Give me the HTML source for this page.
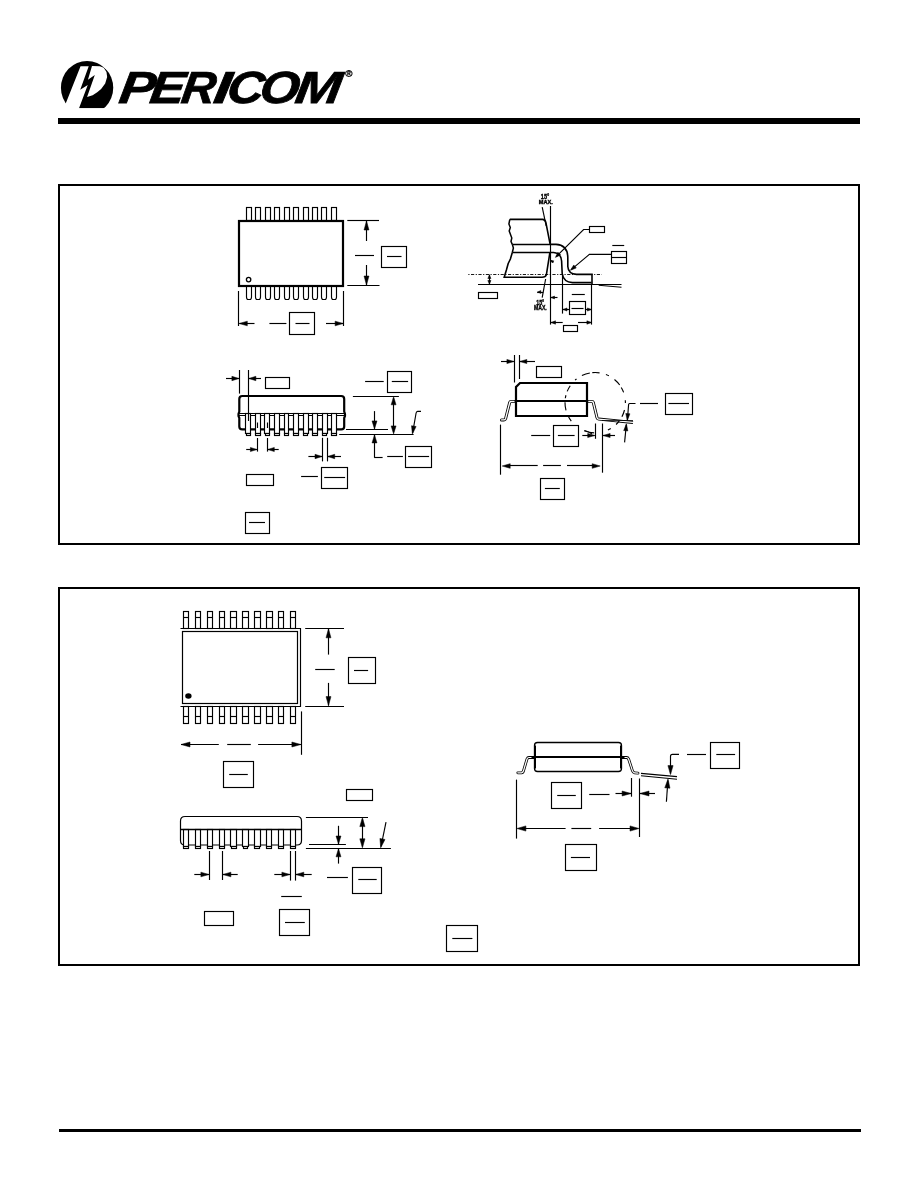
<!DOCTYPE html>
<html lang="en">
<head>
<meta charset="utf-8">
<title>Pericom - Packaging Mechanical</title>
<style>
html,body{margin:0;padding:0;background:#fff;}
body{width:918px;height:1188px;overflow:hidden;position:relative;font-family:"Liberation Sans",Arial,sans-serif;}
svg{position:absolute;left:0;top:0;display:block;will-change:transform;}
svg *{vector-effect:none;}
</style>
</head>
<body>
<svg width="918" height="1188" viewBox="0 0 918 1188" stroke="#000" fill="none" stroke-linecap="butt" stroke-linejoin="miter">
<!-- header rule -->
<rect x="58" y="118" width="802" height="6" fill="#000" stroke="none"/>
<rect x="59" y="1129" width="802" height="3" fill="#000" stroke="none"/>
<rect x="59" y="185" width="800" height="359" fill="none" stroke-width="2"/>
<rect x="59" y="588" width="800" height="377" fill="none" stroke-width="2"/>
<g id="logo" transform="translate(58,58) scale(0.065359)" stroke="none">
<ellipse cx="445" cy="455" rx="400" ry="410" fill="#000"/>
<!-- white stem + bowl of the P -->
<path d="M345,125 L470,125 L340,485 L455,412 L313,790 L80,790 Z" fill="#fff"/>
<path d="M520,122 L640,125 L700,150 L742,215 L752,290 L722,390 L660,475 L600,525 L530,570 L445,598 L563,262 L458,332 Z" fill="#fff"/>
<path d="M702,140 L745,118 L775,190 L738,176 Z" fill="#fff"/>
<rect x="0" y="766" width="900" height="120" fill="#fff"/>
</g>
<g transform="translate(0,103.15) skewX(-8.3)"><text id="brand" y="0" font-family="'Liberation Sans', Arial, sans-serif" font-weight="bold" font-style="italic" font-size="45.0" fill="#000" stroke="#000" stroke-width="0.8" stroke-linejoin="miter"><tspan x="117.7" textLength="36.02" lengthAdjust="spacingAndGlyphs">P</tspan><tspan x="148.6" textLength="34.52" lengthAdjust="spacingAndGlyphs">E</tspan><tspan x="179.9" textLength="33.80" lengthAdjust="spacingAndGlyphs">R</tspan><tspan x="212.3" textLength="17.00" lengthAdjust="spacingAndGlyphs">I</tspan><tspan x="225.4" textLength="36.89" lengthAdjust="spacingAndGlyphs">C</tspan><tspan x="258.2" textLength="39.55" lengthAdjust="spacingAndGlyphs">O</tspan><tspan x="293.85" textLength="45.73" lengthAdjust="spacingAndGlyphs">M</tspan></text></g>
<text x="345.2" y="77.4" font-family="'Liberation Sans', Arial, sans-serif" font-weight="bold" font-size="9.8" fill="#000" stroke="#000" stroke-width="0.3">®</text>
<!-- F1 top view -->
<rect x="246.5" y="207.5" width="5.0" height="13.0" stroke-width="1.15" fill="none" />
<path d="M246.5,286 V297 Q246.5,299.5 248.2,299.5 H249.8 Q251.5,299.5 251.5,297 V286" stroke-width="1.15" fill="none" />
<rect x="255.5" y="207.5" width="5.0" height="13.0" stroke-width="1.15" fill="none" />
<path d="M255.5,286 V297 Q255.5,299.5 257.2,299.5 H258.8 Q260.5,299.5 260.5,297 V286" stroke-width="1.15" fill="none" />
<rect x="265.5" y="207.5" width="5.0" height="13.0" stroke-width="1.15" fill="none" />
<path d="M265.5,286 V297 Q265.5,299.5 267.2,299.5 H268.8 Q270.5,299.5 270.5,297 V286" stroke-width="1.15" fill="none" />
<rect x="274.5" y="207.5" width="5.0" height="13.0" stroke-width="1.15" fill="none" />
<path d="M274.5,286 V297 Q274.5,299.5 276.2,299.5 H277.8 Q279.5,299.5 279.5,297 V286" stroke-width="1.15" fill="none" />
<rect x="284.5" y="207.5" width="5.0" height="13.0" stroke-width="1.15" fill="none" />
<path d="M284.5,286 V297 Q284.5,299.5 286.2,299.5 H287.8 Q289.5,299.5 289.5,297 V286" stroke-width="1.15" fill="none" />
<rect x="293.5" y="207.5" width="5.0" height="13.0" stroke-width="1.15" fill="none" />
<path d="M293.5,286 V297 Q293.5,299.5 295.2,299.5 H296.8 Q298.5,299.5 298.5,297 V286" stroke-width="1.15" fill="none" />
<rect x="303.5" y="207.5" width="5.0" height="13.0" stroke-width="1.15" fill="none" />
<path d="M303.5,286 V297 Q303.5,299.5 305.2,299.5 H306.8 Q308.5,299.5 308.5,297 V286" stroke-width="1.15" fill="none" />
<rect x="312.5" y="207.5" width="5.0" height="13.0" stroke-width="1.15" fill="none" />
<path d="M312.5,286 V297 Q312.5,299.5 314.2,299.5 H315.8 Q317.5,299.5 317.5,297 V286" stroke-width="1.15" fill="none" />
<rect x="321.5" y="207.5" width="5.0" height="13.0" stroke-width="1.15" fill="none" />
<path d="M321.5,286 V297 Q321.5,299.5 323.2,299.5 H324.8 Q326.5,299.5 326.5,297 V286" stroke-width="1.15" fill="none" />
<rect x="331.5" y="207.5" width="5.0" height="13.0" stroke-width="1.15" fill="none" />
<path d="M331.5,286 V297 Q331.5,299.5 333.2,299.5 H334.8 Q336.5,299.5 336.5,297 V286" stroke-width="1.15" fill="none" />
<rect x="239.0" y="221.0" width="104.0" height="65.0" stroke-width="2.2" fill="#fff" />
<circle cx="248.6" cy="279.6" r="2.2" fill="none" stroke-width="1.3"/>
<line x1="347.3" y1="220.5" x2="379" y2="220.5" stroke-width="1.15" />
<line x1="347.3" y1="285.5" x2="379.5" y2="285.5" stroke-width="1.15" />
<line x1="366.5" y1="241" x2="366.5" y2="221" stroke-width="1.15" />
<polygon points="366.50,221.00 368.97,230.00 364.03,230.00" fill="#000" stroke="#000" stroke-width="0.5"/>
<line x1="366.5" y1="265" x2="366.5" y2="285" stroke-width="1.15" />
<polygon points="366.50,285.00 364.03,276.00 368.97,276.00" fill="#000" stroke="#000" stroke-width="0.5"/>
<line x1="355" y1="255.5" x2="374" y2="255.5" stroke-width="1.15" />
<rect x="381.5" y="246.5" width="25.0" height="21.0" stroke-width="1.15" fill="#fff" />
<line x1="387" y1="256.5" x2="401.5" y2="256.5" stroke-width="1.15" />
<line x1="238.5" y1="291" x2="238.5" y2="326" stroke-width="1.15" />
<line x1="343.5" y1="291" x2="343.5" y2="326" stroke-width="1.15" />
<line x1="254.5" y1="323.5" x2="239.3" y2="323.5" stroke-width="1.15" />
<polygon points="239.30,323.50 247.30,321.16 247.30,325.84" fill="#000" stroke="#000" stroke-width="0.5"/>
<line x1="326" y1="323.5" x2="343.1" y2="323.5" stroke-width="1.15" />
<polygon points="343.10,323.50 335.10,325.84 335.10,321.16" fill="#000" stroke="#000" stroke-width="0.5"/>
<line x1="269.4" y1="323.5" x2="286.4" y2="323.5" stroke-width="1.15" />
<rect x="289.5" y="312.5" width="25.0" height="22.0" stroke-width="1.15" fill="#fff" />
<line x1="295.5" y1="323.5" x2="309.5" y2="323.5" stroke-width="1.15" />
<!-- F1 lead detail -->
<text x="540.8" y="199.2" font-size="7" textLength="8.4" lengthAdjust="spacingAndGlyphs" font-family="'Liberation Sans', Arial, sans-serif" font-weight="bold" fill="#000" stroke="#000" stroke-width="0.35">15°</text>
<text x="538.8" y="204" font-size="4.8" textLength="14" lengthAdjust="spacingAndGlyphs" font-family="'Liberation Sans', Arial, sans-serif" font-weight="bold" fill="#000" stroke="#000" stroke-width="0.35">MAX.</text>
<text x="536.2" y="304.6" font-size="6.6" textLength="8" lengthAdjust="spacingAndGlyphs" font-family="'Liberation Sans', Arial, sans-serif" font-weight="bold" fill="#000" stroke="#000" stroke-width="0.35">15°</text>
<text x="533.9" y="309.9" font-size="6.4" textLength="12.9" lengthAdjust="spacingAndGlyphs" font-family="'Liberation Sans', Arial, sans-serif" font-weight="bold" fill="#000" stroke="#000" stroke-width="0.35">MAX.</text>
<line x1="550.5" y1="206" x2="550.5" y2="324.6" stroke-width="1.15" />
<line x1="542.2" y1="207.2" x2="546.2" y2="226" stroke-width="1.15" />
<line x1="545.6" y1="279" x2="542.2" y2="297.7" stroke-width="1.15" />
<path d="M509.8,219.4 H542.6 Q545.2,219.6 545.9,222.6 L550.2,244.6" stroke-width="1.6" fill="none" />
<path d="M509.8,219.4 L508.9,224 L510.3,227.5 L509.2,231 L511.8,238 L511,241.5 L512.3,244.4" stroke-width="1.5" fill="none" />
<line x1="512.3" y1="244.5" x2="550.4" y2="244.5" stroke-width="1.3" />
<line x1="512.3" y1="252.5" x2="550.4" y2="252.5" stroke-width="1.3" />
<path d="M512.3,244.4 L513.4,248 L512.3,252.5" stroke-width="1.5" fill="none" />
<path d="M512.3,252.5 L510.4,259 L508.2,263.5 L506.4,270 L504.2,277.2 H541.5 Q545.6,277.4 546.4,274.6 L549.9,252.5" stroke-width="1.6" fill="none" />
<path d="M550.4,244.4 H556 Q567.6,245 567.8,257.5 V266.5 Q568.3,274 576.5,274.4 H592 V284" stroke-width="1.6" fill="none" />
<path d="M550.4,252.5 H553.6 Q561,253.2 561.6,261 L562.2,273.5 Q563.4,282 572.5,282.6 H591.6" stroke-width="1.6" fill="none" />
<line x1="468.3" y1="274.5" x2="601.8" y2="274.5" stroke-width="0.9" stroke-dasharray="1.2 1.5 3.2 1.5"/>
<line x1="478" y1="284.5" x2="621.5" y2="284.5" stroke-width="1.15" />
<line x1="598.7" y1="285.2" x2="621.5" y2="287.2" stroke-width="1.15" />
<line x1="489.5" y1="274.5" x2="489.5" y2="284.4" stroke-width="1.15" />
<polygon points="489.40,275.00 490.96,278.50 487.84,278.50" fill="#000" stroke="#000" stroke-width="0.5"/>
<polygon points="489.40,284.00 487.84,280.50 490.96,280.50" fill="#000" stroke="#000" stroke-width="0.5"/>
<rect x="478.5" y="292.5" width="19.0" height="6.0" stroke-width="1.15" fill="#fff" />
<line x1="537.2" y1="292.5" x2="543.2" y2="292.5" stroke-width="1.15" />
<polygon points="537.40,292.00 540.90,290.57 540.90,293.43" fill="#000" stroke="#000" stroke-width="0.5"/>
<line x1="557.5" y1="297.5" x2="551" y2="297.5" stroke-width="1.15" />
<polygon points="551.00,297.50 554.50,296.07 554.50,298.93" fill="#000" stroke="#000" stroke-width="0.5"/>
<line x1="553.6" y1="262.3" x2="550.9" y2="260.6" stroke-width="1.15" />
<polygon points="550.90,260.60 553.71,260.83 552.32,263.03" fill="#000" stroke="#000" stroke-width="0.5"/>
<rect x="589.5" y="226.5" width="15.0" height="6.0" stroke-width="1.15" fill="#fff" />
<path d="M589.4,229.5 H583.6 L556.4,256.4" stroke-width="1.15" fill="none" />
<polygon points="555.40,257.40 557.91,252.13 560.67,254.89" fill="#000" stroke="#000" stroke-width="0.5"/>
<path d="M611.8,254.4 H589.4 L571.5,269.4" stroke-width="1.15" fill="none" />
<polygon points="570.40,270.30 573.76,264.96 576.26,267.96" fill="#000" stroke="#000" stroke-width="0.5"/>
<rect x="611.5" y="251.5" width="15.0" height="12.0" stroke-width="1.15" fill="#fff" />
<line x1="611.8" y1="257.5" x2="626.8" y2="257.5" stroke-width="1.15" />
<line x1="612.3" y1="245.5" x2="624.2" y2="245.5" stroke-width="1.15" />
<line x1="562.5" y1="274" x2="562.5" y2="313.6" stroke-width="1.15" />
<line x1="591.5" y1="284" x2="591.5" y2="324.6" stroke-width="1.15" />
<line x1="571.8" y1="294.5" x2="584.8" y2="294.5" stroke-width="1.15" />
<rect x="569.5" y="301.5" width="16.0" height="13.0" stroke-width="1.15" fill="#fff" />
<line x1="571.5" y1="308.5" x2="583.5" y2="308.5" stroke-width="1.15" />
<line x1="569" y1="309.5" x2="563" y2="309.5" stroke-width="1.15" />
<polygon points="563.00,309.50 567.00,307.94 567.00,311.06" fill="#000" stroke="#000" stroke-width="0.5"/>
<line x1="585.8" y1="309.5" x2="591.4" y2="309.5" stroke-width="1.15" />
<polygon points="591.40,309.50 587.40,311.06 587.40,307.94" fill="#000" stroke="#000" stroke-width="0.5"/>
<line x1="562.7" y1="322.5" x2="551" y2="322.5" stroke-width="1.15" />
<polygon points="551.00,322.50 555.50,320.81 555.50,324.19" fill="#000" stroke="#000" stroke-width="0.5"/>
<line x1="578" y1="322.5" x2="591.4" y2="322.5" stroke-width="1.15" />
<polygon points="591.40,322.50 586.90,324.19 586.90,320.81" fill="#000" stroke="#000" stroke-width="0.5"/>
<rect x="563.5" y="325.5" width="14.0" height="6.0" stroke-width="1.15" fill="#fff" />
<!-- F1 side view -->
<path d="M242.3,396 H341.2 Q344.2,396 344.2,399 V411.5 L345,414 V416 L344.2,418 V426.4 Q344.2,429.4 341.2,429.4 H242.3 Q239.3,429.4 239.3,426.4 V418 L238.5,416 V414 L239.3,411.5 V399 Q239.3,396 242.3,396 Z" stroke-width="2.2" fill="#fff" />
<line x1="238.6" y1="413.5" x2="344.8" y2="413.5" stroke-width="1.15" />
<line x1="238.6" y1="415.5" x2="344.8" y2="415.5" stroke-width="1.15" />
<rect x="245.5" y="413.5" width="5.0" height="20.0" stroke-width="1.15" fill="#fff" />
<rect x="246.5" y="433.5" width="4.0" height="2.0" stroke-width="1.15" fill="#fff" />
<rect x="255.5" y="413.5" width="5.0" height="20.0" stroke-width="1.15" fill="#fff" />
<rect x="255.5" y="433.5" width="5.0" height="2.0" stroke-width="1.15" fill="#fff" />
<rect x="264.5" y="413.5" width="5.0" height="20.0" stroke-width="1.15" fill="#fff" />
<rect x="265.5" y="433.5" width="4.0" height="2.0" stroke-width="1.15" fill="#fff" />
<rect x="274.5" y="413.5" width="5.0" height="20.0" stroke-width="1.15" fill="#fff" />
<rect x="274.5" y="433.5" width="5.0" height="2.0" stroke-width="1.15" fill="#fff" />
<rect x="284.5" y="413.5" width="4.0" height="20.0" stroke-width="1.15" fill="#fff" />
<rect x="284.5" y="433.5" width="4.0" height="2.0" stroke-width="1.15" fill="#fff" />
<rect x="293.5" y="413.5" width="5.0" height="20.0" stroke-width="1.15" fill="#fff" />
<rect x="293.5" y="433.5" width="5.0" height="2.0" stroke-width="1.15" fill="#fff" />
<rect x="303.5" y="413.5" width="5.0" height="20.0" stroke-width="1.15" fill="#fff" />
<rect x="303.5" y="433.5" width="4.0" height="2.0" stroke-width="1.15" fill="#fff" />
<rect x="312.5" y="413.5" width="5.0" height="20.0" stroke-width="1.15" fill="#fff" />
<rect x="312.5" y="433.5" width="5.0" height="2.0" stroke-width="1.15" fill="#fff" />
<rect x="322.5" y="413.5" width="5.0" height="20.0" stroke-width="1.15" fill="#fff" />
<rect x="322.5" y="433.5" width="4.0" height="2.0" stroke-width="1.15" fill="#fff" />
<rect x="331.5" y="413.5" width="5.0" height="20.0" stroke-width="1.15" fill="#fff" />
<rect x="331.5" y="433.5" width="5.0" height="2.0" stroke-width="1.15" fill="#fff" />
<line x1="239.5" y1="370" x2="239.5" y2="393.6" stroke-width="1.15" />
<line x1="248.5" y1="370" x2="248.5" y2="421" stroke-width="1.15" />
<line x1="226" y1="378.5" x2="238.9" y2="378.5" stroke-width="1.15" />
<polygon points="238.90,378.50 231.90,380.71 231.90,376.29" fill="#000" stroke="#000" stroke-width="0.5"/>
<line x1="261" y1="378.5" x2="248.9" y2="378.5" stroke-width="1.15" />
<polygon points="248.90,378.50 255.90,376.29 255.90,380.71" fill="#000" stroke="#000" stroke-width="0.5"/>
<rect x="265.5" y="377.5" width="24.0" height="11.0" stroke-width="1.15" fill="#fff" />
<line x1="257.5" y1="422.5" x2="257.5" y2="428" stroke-width="1.15" />
<line x1="267.5" y1="422.5" x2="267.5" y2="428" stroke-width="1.15" />
<line x1="257.5" y1="438" x2="257.5" y2="451.6" stroke-width="1.15" />
<line x1="267.5" y1="438" x2="267.5" y2="451.6" stroke-width="1.15" />
<line x1="246.2" y1="449.5" x2="256.9" y2="449.5" stroke-width="1.15" />
<polygon points="256.90,449.50 250.40,451.58 250.40,447.42" fill="#000" stroke="#000" stroke-width="0.5"/>
<line x1="278.7" y1="449.5" x2="267.8" y2="449.5" stroke-width="1.15" />
<polygon points="267.80,449.50 274.30,447.42 274.30,451.58" fill="#000" stroke="#000" stroke-width="0.5"/>
<line x1="322.5" y1="437.8" x2="322.5" y2="461.4" stroke-width="1.15" />
<line x1="327.5" y1="437.8" x2="327.5" y2="461.4" stroke-width="1.15" />
<line x1="308.4" y1="456.5" x2="322" y2="456.5" stroke-width="1.15" />
<polygon points="322.00,456.50 315.00,458.71 315.00,454.29" fill="#000" stroke="#000" stroke-width="0.5"/>
<line x1="341" y1="456.5" x2="327.7" y2="456.5" stroke-width="1.15" />
<polygon points="327.70,456.50 334.70,454.29 334.70,458.71" fill="#000" stroke="#000" stroke-width="0.5"/>
<rect x="387.5" y="371.5" width="24.0" height="21.0" stroke-width="1.15" fill="#fff" />
<line x1="391.8" y1="381.5" x2="408.1" y2="381.5" stroke-width="1.15" />
<line x1="365.1" y1="381.5" x2="383.7" y2="381.5" stroke-width="1.15" />
<line x1="352.9" y1="396.5" x2="398.9" y2="396.5" stroke-width="1.15" />
<line x1="346" y1="429.5" x2="388" y2="429.5" stroke-width="1.15" />
<line x1="339.2" y1="434.5" x2="413.6" y2="434.5" stroke-width="1.15" />
<line x1="393.5" y1="398" x2="393.5" y2="432" stroke-width="1.15" />
<polygon points="393.60,396.80 396.07,404.80 391.13,404.80" fill="#000" stroke="#000" stroke-width="0.5"/>
<polygon points="393.60,433.90 391.13,425.90 396.07,425.90" fill="#000" stroke="#000" stroke-width="0.5"/>
<line x1="374.5" y1="411.1" x2="374.5" y2="428.9" stroke-width="1.15" />
<polygon points="374.50,428.90 372.03,420.90 376.97,420.90" fill="#000" stroke="#000" stroke-width="0.5"/>
<line x1="374.5" y1="457.6" x2="374.5" y2="434.9" stroke-width="1.15" />
<polygon points="374.50,434.90 376.97,442.90 372.03,442.90" fill="#000" stroke="#000" stroke-width="0.5"/>
<line x1="374.2" y1="457.5" x2="382.6" y2="457.5" stroke-width="1.15" />
<line x1="387.2" y1="456.5" x2="402.9" y2="456.5" stroke-width="1.15" />
<rect x="405.5" y="446.5" width="26.0" height="21.0" stroke-width="1.15" fill="#fff" />
<line x1="408.1" y1="456.5" x2="429.1" y2="456.5" stroke-width="1.15" />
<path d="M421,411.4 H417.6 Q416.4,411.6 416.1,413 L412.6,433" stroke-width="1.15" fill="none" />
<polygon points="412.40,434.00 411.51,425.71 416.12,426.54" fill="#000" stroke="#000" stroke-width="0.5"/>
<rect x="246.5" y="474.5" width="27.0" height="11.0" stroke-width="1.15" fill="#fff" />
<line x1="301.1" y1="476.5" x2="317.9" y2="476.5" stroke-width="1.15" />
<rect x="321.5" y="467.5" width="26.0" height="21.0" stroke-width="1.15" fill="#fff" />
<line x1="324.2" y1="477.5" x2="345.1" y2="477.5" stroke-width="1.15" />
<rect x="245.5" y="512.5" width="24.0" height="21.0" stroke-width="1.15" fill="#fff" />
<line x1="249" y1="522.5" x2="265" y2="522.5" stroke-width="1.15" />
<!-- F1 end view -->
<path d="M516,401.5 H511 Q510,401.5 509.7,402.5 L505.6,418.5 Q505.2,419.9 504,419.9 H501.5" fill="none" stroke="#000" stroke-width="3.0" stroke-linecap="round"/>
<path d="M516,401.5 H511 Q510,401.5 509.7,402.5 L505.6,418.5 Q505.2,419.9 504,419.9 H501.5" fill="none" stroke="#fff" stroke-width="1.3" stroke-linecap="round"/>
<path d="M587,401.5 H592 Q593,401.5 593.3,402.5 L597,417.6 Q597.4,419 598.6,419.1 L633,422.4" fill="none" stroke="#000" stroke-width="3.0"/>
<path d="M587,401.5 H592 Q593,401.5 593.3,402.5 L597,417.6 Q597.4,419 598.6,419.1 L633,422.4" fill="none" stroke="#fff" stroke-width="1.3"/>
<line x1="602" y1="420.5" x2="633" y2="420.5" stroke-width="0.8" />
<path d="M520,383 H587 V416 H516 V387 Z" stroke-width="2.2" fill="#fff" />
<line x1="514.6" y1="401.0" x2="588.2" y2="401.0" stroke-width="2" />
<line x1="514.5" y1="355" x2="514.5" y2="382.5" stroke-width="1.15" />
<line x1="519.5" y1="355" x2="519.5" y2="379" stroke-width="1.15" />
<line x1="501" y1="361.5" x2="513.9" y2="361.5" stroke-width="1.15" />
<polygon points="513.90,361.50 506.90,363.58 506.90,359.42" fill="#000" stroke="#000" stroke-width="0.5"/>
<line x1="535" y1="361.5" x2="519.8" y2="361.5" stroke-width="1.15" />
<polygon points="519.80,361.50 526.80,359.42 526.80,363.58" fill="#000" stroke="#000" stroke-width="0.5"/>
<rect x="536.5" y="366.5" width="25.0" height="11.0" stroke-width="1.15" fill="#fff" />
<path d="M571.27,421.13 A30.2,30.2 0 0 1 567.90,415.61 M565.99,410.36 A30.2,30.2 0 0 1 565.00,402.23 M565.33,398.24 A30.2,30.2 0 0 1 565.94,395.24 M567.20,391.39 A30.2,30.2 0 0 1 570.22,385.73 M575.11,380.15 A30.2,30.2 0 0 1 576.52,378.97 M581.91,375.58 A30.2,30.2 0 0 1 589.85,372.98 M592.31,372.64 A30.2,30.2 0 0 1 599.56,372.82 M605.92,374.47 A30.2,30.2 0 0 1 608.91,375.79 M614.49,379.46 A30.2,30.2 0 0 1 619.69,385.03 M621.27,387.46 A30.2,30.2 0 0 1 623.60,392.42 M625.30,400.23 A30.2,30.2 0 0 1 625.40,402.96 M624.50,410.01 A30.2,30.2 0 0 1 621.91,416.78 M619.29,420.92 A30.2,30.2 0 0 1 616.06,424.53 M610.80,428.56 A30.2,30.2 0 0 1 607.92,430.09 M594.15,432.88 A30.2,30.2 0 0 1 584.18,430.82" stroke-width="1.15" fill="none" />
<line x1="531.2" y1="435.5" x2="550.2" y2="435.5" stroke-width="1.15" />
<rect x="553.5" y="425.5" width="25.0" height="21.0" stroke-width="1.15" fill="#fff" />
<line x1="557.9" y1="435.5" x2="574.6" y2="435.5" stroke-width="1.15" />
<line x1="582.3" y1="435.5" x2="594.7" y2="435.5" stroke-width="1.15" />
<polygon points="594.70,435.50 587.70,437.58 587.70,433.42" fill="#000" stroke="#000" stroke-width="0.5"/>
<line x1="595.5" y1="423.5" x2="595.5" y2="438.8" stroke-width="1.15" />
<line x1="602.5" y1="423.5" x2="602.5" y2="472.7" stroke-width="1.15" />
<line x1="615" y1="435.5" x2="603.1" y2="435.5" stroke-width="1.15" />
<polygon points="603.10,435.50 610.10,433.42 610.10,437.58" fill="#000" stroke="#000" stroke-width="0.5"/>
<path d="M584.5,430.5 Q589,431.5 592,434" stroke-width="1.15" fill="none" />
<path d="M635.5,403.5 H629.6 Q628.7,403.6 628.6,404.5 L627.4,420" stroke-width="1.15" fill="none" />
<polygon points="627.30,420.60 625.78,413.46 629.93,413.79" fill="#000" stroke="#000" stroke-width="0.5"/>
<line x1="624.6" y1="442.4" x2="626.3" y2="424.5" stroke-width="1.15" />
<polygon points="626.40,423.80 627.84,430.96 623.70,430.59" fill="#000" stroke="#000" stroke-width="0.5"/>
<line x1="640" y1="403.5" x2="658" y2="403.5" stroke-width="1.15" />
<rect x="665.5" y="393.5" width="27.0" height="21.0" stroke-width="1.15" fill="#fff" />
<line x1="668.4" y1="403.5" x2="689" y2="403.5" stroke-width="1.15" />
<line x1="500.5" y1="424.6" x2="500.5" y2="474.7" stroke-width="1.15" />
<line x1="509" y1="465.5" x2="537.7" y2="465.5" stroke-width="1.15" />
<polygon points="502.20,466.00 510.20,463.66 510.20,468.34" fill="#000" stroke="#000" stroke-width="0.5"/>
<line x1="543.1" y1="465.5" x2="560.9" y2="465.5" stroke-width="1.15" />
<line x1="567" y1="465.5" x2="594" y2="465.5" stroke-width="1.15" />
<polygon points="600.20,466.00 592.20,468.34 592.20,463.66" fill="#000" stroke="#000" stroke-width="0.5"/>
<rect x="540.5" y="478.5" width="24.0" height="21.0" stroke-width="1.15" fill="#fff" />
<line x1="544.9" y1="488.5" x2="559.8" y2="488.5" stroke-width="1.15" />
<!-- F2 top view -->
<rect x="183.5" y="611.5" width="5.0" height="17.0" stroke-width="1.15" fill="none" />
<line x1="183.4" y1="617.5" x2="188.7" y2="617.5" stroke-width="1.15" />
<rect x="183.5" y="706.5" width="5.0" height="17.0" stroke-width="1.15" fill="none" />
<line x1="183.4" y1="716.5" x2="188.7" y2="716.5" stroke-width="1.15" />
<rect x="195.5" y="611.5" width="5.0" height="17.0" stroke-width="1.15" fill="none" />
<line x1="195.3" y1="617.5" x2="200.6" y2="617.5" stroke-width="1.15" />
<rect x="195.5" y="706.5" width="5.0" height="17.0" stroke-width="1.15" fill="none" />
<line x1="195.3" y1="716.5" x2="200.6" y2="716.5" stroke-width="1.15" />
<rect x="207.5" y="611.5" width="5.0" height="17.0" stroke-width="1.15" fill="none" />
<line x1="207.2" y1="617.5" x2="212.5" y2="617.5" stroke-width="1.15" />
<rect x="207.5" y="706.5" width="5.0" height="17.0" stroke-width="1.15" fill="none" />
<line x1="207.2" y1="716.5" x2="212.5" y2="716.5" stroke-width="1.15" />
<rect x="219.5" y="611.5" width="5.0" height="17.0" stroke-width="1.15" fill="none" />
<line x1="219.1" y1="617.5" x2="224.4" y2="617.5" stroke-width="1.15" />
<rect x="219.5" y="706.5" width="5.0" height="17.0" stroke-width="1.15" fill="none" />
<line x1="219.1" y1="716.5" x2="224.4" y2="716.5" stroke-width="1.15" />
<rect x="230.5" y="611.5" width="6.0" height="17.0" stroke-width="1.15" fill="none" />
<line x1="231.0" y1="617.5" x2="236.3" y2="617.5" stroke-width="1.15" />
<rect x="230.5" y="706.5" width="6.0" height="17.0" stroke-width="1.15" fill="none" />
<line x1="231.0" y1="716.5" x2="236.3" y2="716.5" stroke-width="1.15" />
<rect x="242.5" y="611.5" width="6.0" height="17.0" stroke-width="1.15" fill="none" />
<line x1="242.9" y1="617.5" x2="248.2" y2="617.5" stroke-width="1.15" />
<rect x="242.5" y="706.5" width="6.0" height="17.0" stroke-width="1.15" fill="none" />
<line x1="242.9" y1="716.5" x2="248.2" y2="716.5" stroke-width="1.15" />
<rect x="254.5" y="611.5" width="6.0" height="17.0" stroke-width="1.15" fill="none" />
<line x1="254.8" y1="617.5" x2="260.1" y2="617.5" stroke-width="1.15" />
<rect x="254.5" y="706.5" width="6.0" height="17.0" stroke-width="1.15" fill="none" />
<line x1="254.8" y1="716.5" x2="260.1" y2="716.5" stroke-width="1.15" />
<rect x="266.5" y="611.5" width="6.0" height="17.0" stroke-width="1.15" fill="none" />
<line x1="266.7" y1="617.5" x2="272.0" y2="617.5" stroke-width="1.15" />
<rect x="266.5" y="706.5" width="6.0" height="17.0" stroke-width="1.15" fill="none" />
<line x1="266.7" y1="716.5" x2="272.0" y2="716.5" stroke-width="1.15" />
<rect x="278.5" y="611.5" width="5.0" height="17.0" stroke-width="1.15" fill="none" />
<line x1="278.6" y1="617.5" x2="283.9" y2="617.5" stroke-width="1.15" />
<rect x="278.5" y="706.5" width="5.0" height="17.0" stroke-width="1.15" fill="none" />
<line x1="278.6" y1="716.5" x2="283.9" y2="716.5" stroke-width="1.15" />
<rect x="290.5" y="611.5" width="5.0" height="17.0" stroke-width="1.15" fill="none" />
<line x1="290.5" y1="617.5" x2="295.8" y2="617.5" stroke-width="1.15" />
<rect x="290.5" y="706.5" width="5.0" height="17.0" stroke-width="1.15" fill="none" />
<line x1="290.5" y1="716.5" x2="295.8" y2="716.5" stroke-width="1.15" />
<path d="M180.5,628.5 H300.5 V706.5 H180.5" stroke-width="1.15" fill="none" />
<rect x="182.5" y="631.5" width="115.0" height="72.0" stroke-width="1.2" fill="#fff" />
<ellipse cx="188.4" cy="696" rx="3.2" ry="2.8" fill="#000" stroke="none"/>
<line x1="301.5" y1="711.4" x2="301.5" y2="754.8" stroke-width="1.15" />
<line x1="218.8" y1="744.5" x2="181" y2="744.5" stroke-width="1.15" />
<polygon points="181.00,744.50 190.00,742.03 190.00,746.97" fill="#000" stroke="#000" stroke-width="0.5"/>
<line x1="227.2" y1="744.5" x2="250.8" y2="744.5" stroke-width="1.15" />
<line x1="258.1" y1="744.5" x2="300.9" y2="744.5" stroke-width="1.15" />
<polygon points="300.90,744.50 291.90,746.97 291.90,742.03" fill="#000" stroke="#000" stroke-width="0.5"/>
<rect x="223.5" y="761.5" width="30.0" height="26.0" stroke-width="1.15" fill="#fff" />
<line x1="229.2" y1="774.5" x2="247.8" y2="774.5" stroke-width="1.15" />
<line x1="305.2" y1="628.5" x2="344" y2="628.5" stroke-width="1.15" />
<line x1="305.2" y1="706.5" x2="344" y2="706.5" stroke-width="1.15" />
<line x1="328.5" y1="654.6" x2="328.5" y2="628.8" stroke-width="1.15" />
<polygon points="328.50,628.80 330.97,637.80 326.03,637.80" fill="#000" stroke="#000" stroke-width="0.5"/>
<line x1="328.5" y1="682.9" x2="328.5" y2="705.6" stroke-width="1.15" />
<polygon points="328.50,705.60 326.03,696.60 330.97,696.60" fill="#000" stroke="#000" stroke-width="0.5"/>
<line x1="315.2" y1="669.5" x2="334.7" y2="669.5" stroke-width="1.15" />
<rect x="348.5" y="657.5" width="27.0" height="26.0" stroke-width="1.15" fill="#fff" />
<line x1="354" y1="670.5" x2="368.1" y2="670.5" stroke-width="1.15" />
<!-- F2 side view -->
<path d="M185,816.5 H297 Q301.5,816.5 301.5,821 V840.5 Q301.5,845 297,845 H185 Q180.5,845 180.5,840.5 V821 Q180.5,816.5 185,816.5 Z" stroke-width="1.2" fill="#fff" />
<rect x="183.5" y="829.5" width="5.0" height="17.0" stroke-width="1.15" fill="#fff" />
<rect x="183.5" y="846.5" width="5.0" height="2.0" stroke-width="1.15" fill="#fff" />
<rect x="195.5" y="829.5" width="5.0" height="17.0" stroke-width="1.15" fill="#fff" />
<rect x="195.5" y="846.5" width="5.0" height="2.0" stroke-width="1.15" fill="#fff" />
<rect x="207.5" y="829.5" width="5.0" height="17.0" stroke-width="1.15" fill="#fff" />
<rect x="207.5" y="846.5" width="5.0" height="2.0" stroke-width="1.15" fill="#fff" />
<rect x="219.5" y="829.5" width="5.0" height="17.0" stroke-width="1.15" fill="#fff" />
<rect x="219.5" y="846.5" width="5.0" height="2.0" stroke-width="1.15" fill="#fff" />
<rect x="230.5" y="829.5" width="6.0" height="17.0" stroke-width="1.15" fill="#fff" />
<rect x="231.5" y="846.5" width="5.0" height="2.0" stroke-width="1.15" fill="#fff" />
<rect x="242.5" y="829.5" width="6.0" height="17.0" stroke-width="1.15" fill="#fff" />
<rect x="243.5" y="846.5" width="4.0" height="2.0" stroke-width="1.15" fill="#fff" />
<rect x="254.5" y="829.5" width="6.0" height="17.0" stroke-width="1.15" fill="#fff" />
<rect x="254.5" y="846.5" width="5.0" height="2.0" stroke-width="1.15" fill="#fff" />
<rect x="266.5" y="829.5" width="5.0" height="17.0" stroke-width="1.15" fill="#fff" />
<rect x="266.5" y="846.5" width="5.0" height="2.0" stroke-width="1.15" fill="#fff" />
<rect x="278.5" y="829.5" width="5.0" height="17.0" stroke-width="1.15" fill="#fff" />
<rect x="278.5" y="846.5" width="5.0" height="2.0" stroke-width="1.15" fill="#fff" />
<rect x="290.5" y="829.5" width="5.0" height="17.0" stroke-width="1.15" fill="#fff" />
<rect x="290.5" y="846.5" width="5.0" height="2.0" stroke-width="1.15" fill="#fff" />
<line x1="180.4" y1="829.5" x2="301.5" y2="829.5" stroke-width="1.6" />
<rect x="346.5" y="789.5" width="26.0" height="11.0" stroke-width="1.15" fill="#fff" />
<line x1="305.9" y1="817.5" x2="368" y2="817.5" stroke-width="1.15" />
<line x1="309" y1="844.5" x2="345.9" y2="844.5" stroke-width="1.15" />
<line x1="305.9" y1="848.5" x2="390.9" y2="848.5" stroke-width="1.15" />
<line x1="362.5" y1="819" x2="362.5" y2="846.5" stroke-width="1.15" />
<polygon points="362.40,817.60 365.00,826.60 359.80,826.60" fill="#000" stroke="#000" stroke-width="0.5"/>
<polygon points="362.40,847.80 359.80,838.80 365.00,838.80" fill="#000" stroke="#000" stroke-width="0.5"/>
<line x1="338.5" y1="825.8" x2="338.5" y2="844" stroke-width="1.15" />
<polygon points="338.50,844.00 336.03,836.00 340.97,836.00" fill="#000" stroke="#000" stroke-width="0.5"/>
<line x1="338.5" y1="863.6" x2="338.5" y2="848.8" stroke-width="1.15" />
<polygon points="338.50,848.80 340.97,856.80 336.03,856.80" fill="#000" stroke="#000" stroke-width="0.5"/>
<line x1="386" y1="822.2" x2="381" y2="846.5" stroke-width="1.15" />
<polygon points="380.70,847.80 379.92,838.46 385.01,839.48" fill="#000" stroke="#000" stroke-width="0.5"/>
<line x1="209.5" y1="851" x2="209.5" y2="880" stroke-width="1.15" />
<line x1="222.5" y1="851" x2="222.5" y2="880" stroke-width="1.15" />
<line x1="194.3" y1="874.5" x2="208.9" y2="874.5" stroke-width="1.15" />
<polygon points="208.90,874.50 200.90,876.84 200.90,872.16" fill="#000" stroke="#000" stroke-width="0.5"/>
<line x1="237.7" y1="874.5" x2="222.9" y2="874.5" stroke-width="1.15" />
<polygon points="222.90,874.50 230.90,872.16 230.90,876.84" fill="#000" stroke="#000" stroke-width="0.5"/>
<line x1="290.5" y1="851" x2="290.5" y2="880.6" stroke-width="1.15" />
<line x1="295.5" y1="851" x2="295.5" y2="880.6" stroke-width="1.15" />
<line x1="274.3" y1="874.5" x2="289.9" y2="874.5" stroke-width="1.15" />
<polygon points="289.90,874.50 281.90,876.84 281.90,872.16" fill="#000" stroke="#000" stroke-width="0.5"/>
<line x1="311.7" y1="874.5" x2="295.8" y2="874.5" stroke-width="1.15" />
<polygon points="295.80,874.50 303.80,872.16 303.80,876.84" fill="#000" stroke="#000" stroke-width="0.5"/>
<line x1="327" y1="877.5" x2="347.9" y2="877.5" stroke-width="1.15" />
<rect x="352.5" y="867.5" width="29.0" height="26.0" stroke-width="1.15" fill="#fff" />
<line x1="358.3" y1="879.5" x2="376.7" y2="879.5" stroke-width="1.15" />
<line x1="281.2" y1="896.5" x2="301.8" y2="896.5" stroke-width="1.15" />
<rect x="279.5" y="909.5" width="30.0" height="26.0" stroke-width="1.15" fill="#fff" />
<line x1="285" y1="922.5" x2="304.8" y2="922.5" stroke-width="1.15" />
<rect x="204.5" y="911.5" width="29.0" height="14.0" stroke-width="1.15" fill="#fff" />
<!-- F2 end view -->
<path d="M534.5,757.5 H529 Q527.6,757.5 527,759 L523.6,770.5 Q523,772.7 521.5,772.8 H517.8" fill="none" stroke="#000" stroke-width="2.8" stroke-linecap="round"/>
<path d="M534.5,757.5 H529 Q527.6,757.5 527,759 L523.6,770.5 Q523,772.7 521.5,772.8 H517.8" fill="none" stroke="#fff" stroke-width="1.2" stroke-linecap="round"/>
<path d="M621.5,757.5 H626.6 Q628,757.5 628.6,759 L632.4,770.6 Q633,772.6 634.6,772.8 L638,773.2" fill="none" stroke="#000" stroke-width="2.8" stroke-linecap="round"/>
<path d="M621.5,757.5 H626.6 Q628,757.5 628.6,759 L632.4,770.6 Q633,772.6 634.6,772.8 L638,773.2" fill="none" stroke="#fff" stroke-width="1.2" stroke-linecap="round"/>
<path d="M537.5,742.5 H618.5 Q621.5,742.5 621.5,745.5 V768.5 Q621.5,771.5 618.5,771.5 H537.5 Q534.5,771.5 534.5,768.5 V745.5 Q534.5,742.5 537.5,742.5 Z" stroke-width="1.3" fill="#fff" />
<line x1="535.0" y1="745.5" x2="535.0" y2="768.5" stroke-width="2" />
<line x1="621.0" y1="745.5" x2="621.0" y2="768.5" stroke-width="2" />
<line x1="531.5" y1="757.0" x2="624.5" y2="757.0" stroke-width="2" />
<line x1="641" y1="773.4" x2="677" y2="776.6" stroke-width="1.15" />
<line x1="641" y1="775.8" x2="677" y2="779.3" stroke-width="1.15" />
<line x1="516.5" y1="779.6" x2="516.5" y2="838.6" stroke-width="1.15" />
<line x1="639.5" y1="778.5" x2="639.5" y2="837" stroke-width="1.15" />
<line x1="631.5" y1="778" x2="631.5" y2="796.7" stroke-width="1.15" />
<rect x="551.5" y="782.5" width="30.0" height="26.0" stroke-width="1.15" fill="#fff" />
<line x1="557.2" y1="795.5" x2="575.8" y2="795.5" stroke-width="1.15" />
<line x1="589.2" y1="794.5" x2="609.5" y2="794.5" stroke-width="1.15" />
<line x1="615.5" y1="793.5" x2="631.1" y2="793.5" stroke-width="1.15" />
<polygon points="631.10,793.50 622.10,795.97 622.10,791.03" fill="#000" stroke="#000" stroke-width="0.5"/>
<line x1="655" y1="793.5" x2="640" y2="793.5" stroke-width="1.15" />
<polygon points="640.00,793.50 649.00,791.03 649.00,795.97" fill="#000" stroke="#000" stroke-width="0.5"/>
<path d="M679,754.3 H672.5 Q670.5,754.4 670.5,756.4 V773.6" stroke-width="1.15" fill="none" />
<polygon points="670.50,774.60 667.90,765.60 673.10,765.60" fill="#000" stroke="#000" stroke-width="0.5"/>
<line x1="666.4" y1="801.7" x2="667.9" y2="780.5" stroke-width="1.15" />
<polygon points="668.00,779.00 669.97,788.16 664.78,787.80" fill="#000" stroke="#000" stroke-width="0.5"/>
<line x1="687" y1="754.5" x2="706" y2="754.5" stroke-width="1.15" />
<rect x="710.5" y="742.5" width="29.0" height="26.0" stroke-width="1.15" fill="#fff" />
<line x1="716.3" y1="754.5" x2="735.1" y2="754.5" stroke-width="1.15" />
<line x1="524" y1="828.5" x2="565.6" y2="828.5" stroke-width="1.15" />
<polygon points="516.90,828.50 525.90,825.90 525.90,831.10" fill="#000" stroke="#000" stroke-width="0.5"/>
<line x1="571.4" y1="828.5" x2="591.2" y2="828.5" stroke-width="1.15" />
<line x1="599.1" y1="828.5" x2="632" y2="828.5" stroke-width="1.15" />
<polygon points="639.00,828.50 630.00,831.10 630.00,825.90" fill="#000" stroke="#000" stroke-width="0.5"/>
<rect x="565.5" y="844.5" width="31.0" height="26.0" stroke-width="1.15" fill="#fff" />
<line x1="570.9" y1="857.5" x2="590" y2="857.5" stroke-width="1.15" />
<rect x="446.5" y="925.5" width="31.0" height="26.0" stroke-width="1.15" fill="#fff" />
<line x1="452.3" y1="938.5" x2="472.4" y2="938.5" stroke-width="1.15" />
</svg>
</body>
</html>
